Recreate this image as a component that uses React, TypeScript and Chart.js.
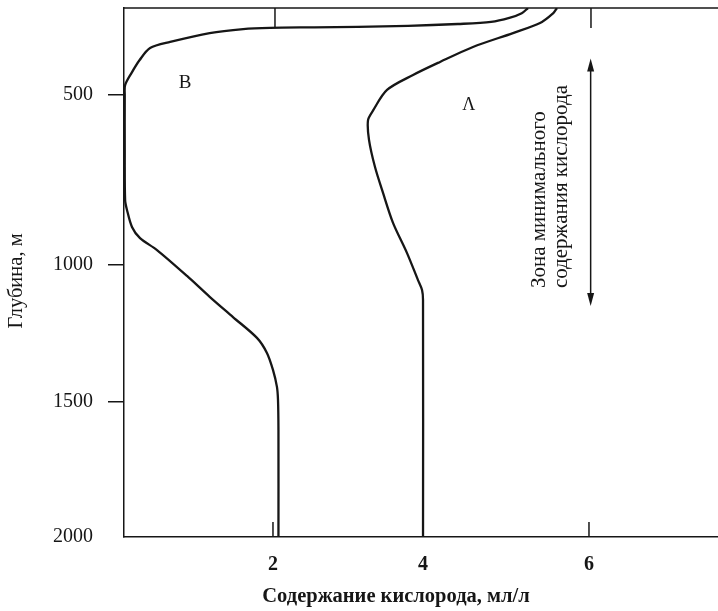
import React, { useEffect, useRef } from 'react';
import { Chart, registerables, LinearScale } from 'chart.js';

Chart.register(...registerables);

// ---------- data ----------
const X_TICKS = [2, 4, 6];
const X_TOP_TICKS = [2, 6];
const Y_TICKS = [500, 1000, 1500, 2000];

// Curve B (oxygen ml/l, depth m)
const CURVE_B_OXYGEN = [5.265, 5.19, 5.04, 4.82, 4.42, 3.8, 3.13, 2.55, 1.96, 1.6, 1.15, 0.62, 0.35, 0.21, 0.1, 0.015, 0.01, 0.01, 0.015, 0.04, 0.107, 0.215, 0.443, 0.846, 1.154, 1.463, 1.785, 1.919, 2.0, 2.053, 2.067, 2.073, 2.073];
const CURVE_B_DEPTH = [0, 30, 57, 80, 92, 103, 108, 111, 114, 121, 144, 195, 230, 299, 374, 443, 500, 662, 809, 838, 888, 921, 956, 1040, 1117, 1190, 1266, 1321, 1383, 1445, 1493, 1604, 2000];

// Curve A
const CURVE_A_OXYGEN = [5.614, 5.57, 5.41, 5.084, 4.602, 4.205, 3.867, 3.52, 3.333, 3.267, 3.28, 3.36, 3.467, 3.6, 3.787, 3.933, 3.987, 4.0, 4.0];
const CURVE_A_DEPTH = [0, 29, 86, 144, 224, 310, 385, 471, 546, 574, 632, 712, 788, 876, 965, 1055, 1091, 1128, 2000];

// zone of minimum oxygen (depth range of the arrow)
const ZONE_TOP = 290;
const ZONE_BOTTOM = 1150;
const ZONE_OXYGEN = 6.02;

const LABEL_B = { text: 'B', x: 0.82, y: 430 };
const LABEL_A = { text: 'Λ', x: 4.55, y: 530 };

const X_TITLE = 'Содержание кислорода, мл/л';
const Y_TITLE = 'Глубина, м';
const ZONE_LINE1 = 'Зона минимального';
const ZONE_LINE2 = 'содержания кислорода';

// ---------- scale (piecewise linear, as the hand-drawn original) ----------
const KNOTS: Record<string, { v: number[]; f: number[] }> = {
  x: { v: [0, 2, 4, 6, 7.55], f: [0, 0.2508, 0.5034, 0.7828, 1] },
  y: { v: [0, 500, 1000, 1500, 2000], f: [0, 0.16446, 0.48582, 0.7448, 1] },
};

function v2f(k: { v: number[]; f: number[] }, val: number) {
  const { v, f } = k;
  let i = 0;
  while (i < v.length - 2 && val > v[i + 1]) i++;
  return f[i] + ((val - v[i]) / (v[i + 1] - v[i])) * (f[i + 1] - f[i]);
}
function f2v(k: { v: number[]; f: number[] }, d: number) {
  const { v, f } = k;
  let i = 0;
  while (i < f.length - 2 && d > f[i + 1]) i++;
  return v[i] + ((d - f[i]) / (f[i + 1] - f[i])) * (v[i + 1] - v[i]);
}

class PiecewiseScale extends (LinearScale as any) {
  static id = 'piecewise';
  static defaults = {};
  getPixelForValue(value: number) {
    if (value === null || value === undefined || isNaN(value)) return NaN;
    return (this as any).getPixelForDecimal(v2f(KNOTS[(this as any).id], value));
  }
  getValueForPixel(pixel: number) {
    return f2v(KNOTS[(this as any).id], (this as any).getDecimalForPixel(pixel));
  }
}
Chart.register(PiecewiseScale as any);

const INK = '#161616';
const SERIF = "'Liberation Serif', 'DejaVu Serif', serif";

const decor = {
  id: 'decor',
  afterDraw(chart: any) {
    const { ctx, chartArea, scales } = chart;
    const xs = scales.x;
    const ys = scales.y;
    ctx.save();
    ctx.strokeStyle = INK;
    ctx.fillStyle = INK;
    ctx.lineWidth = 1.5;
    // top border
    ctx.beginPath();
    ctx.moveTo(chartArea.left, chartArea.top);
    ctx.lineTo(chartArea.right, chartArea.top);
    ctx.stroke();
    // inward bottom ticks
    for (const v of X_TICKS) {
      const px = xs.getPixelForValue(v);
      ctx.beginPath();
      ctx.moveTo(px, chartArea.bottom);
      ctx.lineTo(px, chartArea.bottom - 15);
      ctx.stroke();
    }
    // inward top ticks
    for (const v of X_TOP_TICKS) {
      const px = xs.getPixelForValue(v) + 2;
      ctx.beginPath();
      ctx.moveTo(px, chartArea.top);
      ctx.lineTo(px, chartArea.top + 20);
      ctx.stroke();
    }
    // double arrow
    const ax = xs.getPixelForValue(ZONE_OXYGEN);
    const ay1 = ys.getPixelForValue(ZONE_TOP);
    const ay2 = ys.getPixelForValue(ZONE_BOTTOM);
    ctx.beginPath();
    ctx.moveTo(ax, ay1 + 6);
    ctx.lineTo(ax, ay2 - 6);
    ctx.stroke();
    ctx.beginPath();
    ctx.moveTo(ax, ay1);
    ctx.lineTo(ax - 3.5, ay1 + 13);
    ctx.lineTo(ax + 3.5, ay1 + 13);
    ctx.closePath();
    ctx.fill();
    ctx.beginPath();
    ctx.moveTo(ax, ay2);
    ctx.lineTo(ax - 3.5, ay2 - 13);
    ctx.lineTo(ax + 3.5, ay2 - 13);
    ctx.closePath();
    ctx.fill();

    // zone text (rotated)
    ctx.font = `21px ${SERIF}`;
    ctx.textAlign = 'left';
    ctx.textBaseline = 'middle';
    const ty = ay2 - 18;
    ctx.save();
    ctx.translate(ax - 51, ty);
    ctx.rotate(-Math.PI / 2);
    ctx.fillText(ZONE_LINE1, 0, 0);
    ctx.restore();
    ctx.save();
    ctx.translate(ax - 29, ty);
    ctx.rotate(-Math.PI / 2);
    ctx.fillText(ZONE_LINE2, 0, 0);
    ctx.restore();

    // curve labels
    ctx.textAlign = 'center';
    ctx.font = `19px ${SERIF}`;
    ctx.fillText(LABEL_B.text, xs.getPixelForValue(LABEL_B.x), ys.getPixelForValue(LABEL_B.y));
    ctx.font = `18px ${SERIF}`;
    ctx.fillText(LABEL_A.text, xs.getPixelForValue(LABEL_A.x), ys.getPixelForValue(LABEL_A.y));

    // axis titles
    ctx.font = `bold 20.5px ${SERIF}`;
    ctx.fillText(X_TITLE, 396, 597);
    ctx.save();
    ctx.translate(17, 281);
    ctx.rotate(-Math.PI / 2);
    ctx.font = `20.5px ${SERIF}`;
    ctx.fillText(Y_TITLE, 0, 0);
    ctx.restore();
    ctx.restore();
  },
};

export default function App() {
  const ref = useRef<HTMLCanvasElement>(null);
  useEffect(() => {
    document.body.style.margin = '0';
    const canvas = ref.current!;
    const mk = (xs: number[], ys: number[]) => xs.map((x, i) => ({ x, y: ys[i] }));
    const chart = new Chart(canvas, {
      type: 'line',
      data: {
        datasets: [
          { label: 'B', data: mk(CURVE_B_OXYGEN, CURVE_B_DEPTH), borderColor: INK, borderWidth: 2.3, pointRadius: 0, tension: 0.3, fill: false },
          { label: 'A', data: mk(CURVE_A_OXYGEN, CURVE_A_DEPTH), borderColor: INK, borderWidth: 2.3, pointRadius: 0, tension: 0.3, fill: false },
        ],
      },
      options: {
        animation: false,
        responsive: false,
        layout: { padding: { top: 8, right: 0, left: 0, bottom: 0 } },
        plugins: { legend: { display: false }, tooltip: { enabled: false }, title: { display: false } },
        scales: {
          x: {
            type: 'piecewise' as any,
            min: 0,
            max: 7.55,
            afterBuildTicks: (s: any) => { s.ticks = X_TICKS.map((v) => ({ value: v })); },
            afterFit: (s: any) => { s.height = 74; s.paddingLeft = 0; s.paddingRight = 0; },
            border: { display: true, color: INK, width: 1.5 },
            grid: { drawOnChartArea: false, drawTicks: false },
            ticks: { padding: 16, color: INK, font: { family: SERIF, size: 20, weight: 'bold' }, callback: (v: any) => String(v) },
          },
          y: {
            type: 'piecewise' as any,
            reverse: true,
            min: 0,
            max: 2000,
            afterBuildTicks: (s: any) => { s.ticks = Y_TICKS.map((v) => ({ value: v })); },
            afterFit: (s: any) => { s.width = 124; s.paddingTop = 0; s.paddingBottom = 0; },
            border: { display: true, color: INK, width: 1.5 },
            grid: {
              drawOnChartArea: false,
              tickLength: 16,
              lineWidth: 1.5,
              color: (c: any) => (c.tick && c.tick.value === 2000 ? 'rgba(0,0,0,0)' : INK),
            },
            ticks: { padding: 15, color: INK, font: { family: SERIF, size: 20 }, callback: (v: any) => String(v) },
          },
        },
      },
      plugins: [decor],
    } as any);
    return () => chart.destroy();
  }, []);
  return (
    <div style={{ width: 718, height: 611 }}>
      <canvas ref={ref} width={718} height={611} style={{ display: 'block' }} />
    </div>
  );
}
